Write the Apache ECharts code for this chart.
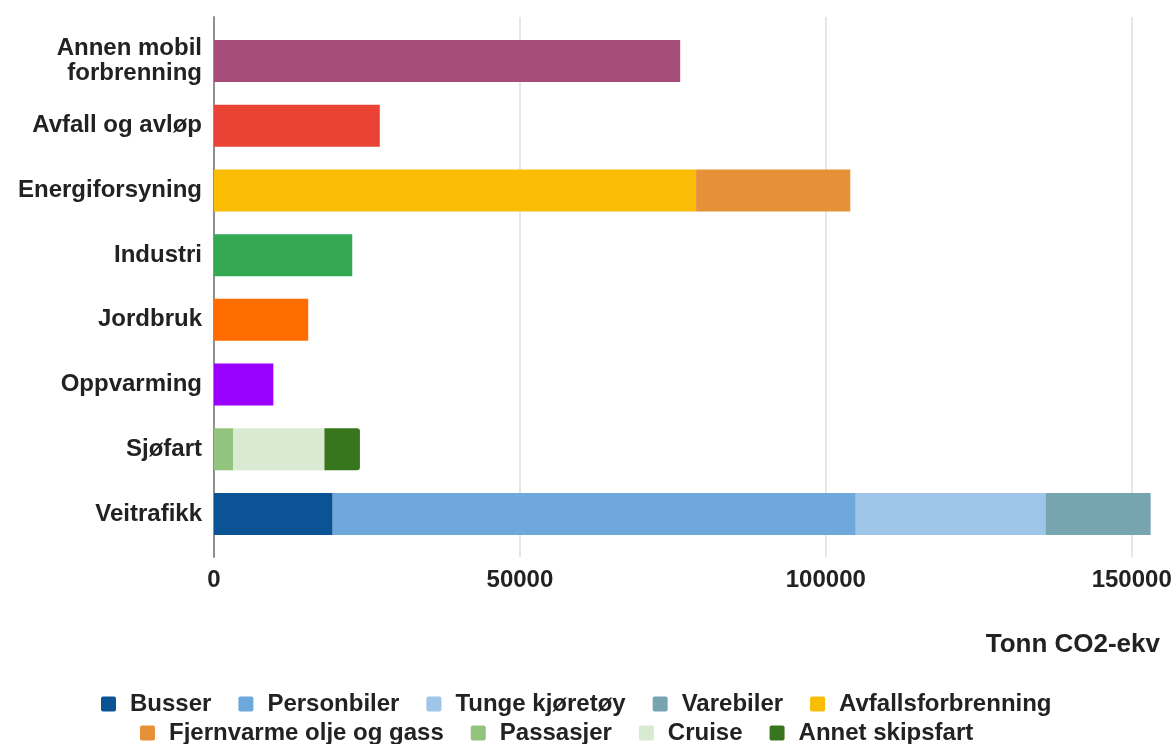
<!DOCTYPE html>
<html>
<head>
<meta charset="utf-8">
<script src="https://cdn.jsdelivr.net/npm/echarts@6/dist/echarts.min.js"></script>
<style>
  html, body { margin: 0; padding: 0; background: #fff; }
  #chart { width: 1176px; height: 744px; }
</style>
</head>
<body>
<div id="chart"></div>
<script>
// Klimagassutslipp per sektor (tonn CO2-ekvivalenter)
const categories = ['Annen mobil forbrenning', 'Avfall og avløp', 'Energiforsyning', 'Industri',
  'Jordbruk', 'Oppvarming', 'Sjøfart', 'Veitrafikk'];

// Sektorer med ett samlet tall
const annenMobil   = [76200, '-', '-', '-', '-', '-', '-', '-'];
const avfallAvlop  = ['-', 27100, '-', '-', '-', '-', '-', '-'];
const industri     = ['-', '-', '-', 22600, '-', '-', '-', '-'];
const jordbruk     = ['-', '-', '-', '-', 15400, '-', '-', '-'];
const oppvarming   = ['-', '-', '-', '-', '-', 9700, '-', '-'];

// Energiforsyning
const avfallsforbrenning = ['-', '-', 78800, '-', '-', '-', '-', '-'];
const fjernvarme         = ['-', '-', 25200, '-', '-', '-', '-', '-'];

// Sjøfart
const passasjer = ['-', '-', '-', '-', '-', '-', 3150, '-'];
const cruise    = ['-', '-', '-', '-', '-', '-', 14900, '-'];
const annetSkip = ['-', '-', '-', '-', '-', '-', 5800, '-'];

// Veitrafikk
const busser      = ['-', '-', '-', '-', '-', '-', '-', 19400];
const personbiler = ['-', '-', '-', '-', '-', '-', '-', 85500];
const tunge       = ['-', '-', '-', '-', '-', '-', '-', 31000];
const varebiler   = ['-', '-', '-', '-', '-', '-', '-', 17200];

const axisMin = 0;
const axisMax = 150000;
const axisStep = 50000;
const axisTitle = 'Tonn CO2-ekv';

const legendRow1 = ['Busser', 'Personbiler', 'Tunge kjøretøy', 'Varebiler', 'Avfallsforbrenning'];
const legendRow2 = ['Fjernvarme olje og gass', 'Passasjer', 'Cruise', 'Annet skipsfart'];

const FONT = '"Liberation Sans", Arial, Helvetica, sans-serif';
const TXT = '#222';

function bar(name, data, color, extra) {
  return Object.assign({
    name, type: 'bar', stack: 'sum', data,
    xAxisIndex: 0, yAxisIndex: 0,
    barWidth: 42, clip: false,
    itemStyle: { color },
    emphasis: { disabled: true }
  }, extra || {});
}

const chart = echarts.init(document.getElementById('chart'), null, { renderer: 'canvas' });

const legendCommon = {
  orient: 'horizontal',
  padding: 0,
  itemWidth: 15,
  itemHeight: 15,
  itemGap: 27,
  icon: 'path://M2,0 H13 A2,2 0 0 1 15,2 V13 A2,2 0 0 1 13,15 H2 A2,2 0 0 1 0,13 V2 A2,2 0 0 1 2,0 Z',
  selectedMode: false,
  textStyle: { fontFamily: FONT, fontSize: 24, fontWeight: 'bold', color: TXT, padding: [0, 0, 0, 9] }
};

chart.setOption({
  animation: false,
  backgroundColor: '#fff',
  textStyle: { fontFamily: FONT },
  title: {
    text: axisTitle,
    right: 16,
    top: 632,
    padding: 0,
    textStyle: { fontFamily: FONT, fontSize: 26, fontWeight: 'bold', color: TXT }
  },
  legend: [
    Object.assign({ data: legendRow1, left: 101, top: 692 }, legendCommon),
    Object.assign({ data: legendRow2, left: 140, top: 721 }, legendCommon)
  ],
  grid: [
    // bars
    { left: 214, right: 44.3, top: 28.6, bottom: 197.6, containLabel: false },
    // axis frame and gridlines
    { left: 214, right: 44.3, top: 17, bottom: 187, containLabel: false }
  ],
  xAxis: [
    { gridIndex: 0, type: 'value', min: axisMin, max: axisMax, interval: axisStep, show: false },
    {
      gridIndex: 1, type: 'value', min: axisMin, max: axisMax, interval: axisStep,
      axisLine: { show: false },
      axisTick: { show: false },
      splitLine: { show: true, lineStyle: { color: '#dedede', width: 1.5 } },
      axisLabel: {
        margin: 11,
        formatter: (v) => String(v),
        fontFamily: FONT, fontSize: 24, fontWeight: 'bold', color: TXT
      }
    }
  ],
  yAxis: [
    {
      gridIndex: 0, type: 'category', data: categories, inverse: true,
      axisLine: { show: false },
      axisTick: { show: false },
      splitLine: { show: false },
      axisLabel: {
        margin: 12,
        lineHeight: 25,
        formatter: (v) => v.length > 16 ? v.replace(/ (\S+)$/, '\n$1') : v,
        fontFamily: FONT, fontSize: 24, fontWeight: 'bold', color: TXT
      }
    },
    {
      gridIndex: 1, type: 'value', min: 0, max: 1,
      axisLine: { show: true, onZero: false, lineStyle: { color: '#8f8f8f', width: 2 } },
      axisTick: { show: false },
      axisLabel: { show: false },
      splitLine: { show: false }
    }
  ],
  series: [
    bar('Annen mobil forbrenning', annenMobil, '#a64d79'),
    bar('Avfall og avløp', avfallAvlop, '#ea4335'),
    bar('Avfallsforbrenning', avfallsforbrenning, '#fbbc04'),
    bar('Fjernvarme olje og gass', fjernvarme, '#e69138'),
    bar('Industri', industri, '#34a853'),
    bar('Jordbruk', jordbruk, '#ff6d01'),
    bar('Oppvarming', oppvarming, '#9900ff'),
    bar('Passasjer', passasjer, '#93c47d'),
    bar('Cruise', cruise, '#d9ead3'),
    bar('Annet skipsfart', annetSkip, '#38761d', { itemStyle: { color: '#38761d', borderRadius: [0, 3, 3, 0] } }),
    bar('Busser', busser, '#0b5394'),
    bar('Personbiler', personbiler, '#6fa8dc'),
    bar('Tunge kjøretøy', tunge, '#9fc5e8'),
    bar('Varebiler', varebiler, '#76a5af')
  ]
});
</script>
</body>
</html>
